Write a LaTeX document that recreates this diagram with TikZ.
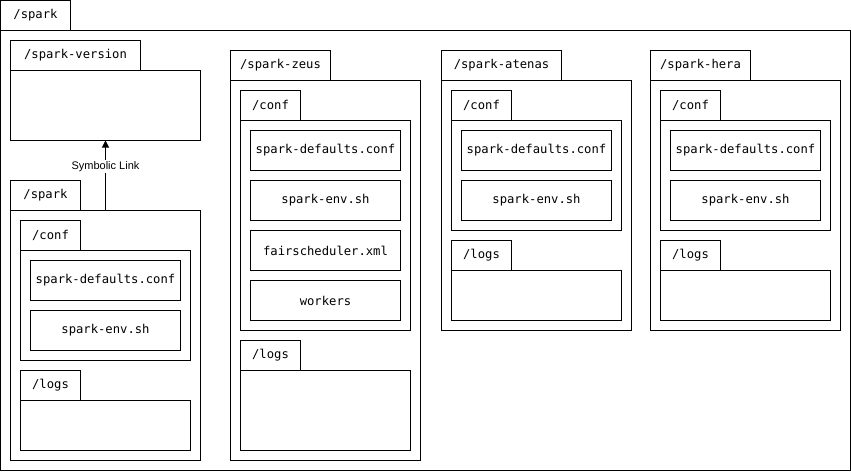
\documentclass[tikz,border=0pt]{standalone}
\usepackage{fontspec}
\setmainfont{Liberation Sans}
\newfontfamily\monofont{DejaVu Sans Mono}
\usetikzlibrary{arrows.meta}
\tikzset{
  box/.style={draw=black, line width=1pt, fill=white, inner sep=0pt, outer sep=0pt,
    anchor=north west, font=\monofont\fontsize{12.2}{13}\selectfont},
  tab/.style={box, minimum height=30pt},
  body/.style={box},
  file/.style={box, minimum width=150pt, minimum height=40pt},
  link/.style={line width=1pt, -{Triangle[length=7pt,width=7pt]}},
  linklabel/.style={fill=white, inner sep=1pt, font=\fontsize{11}{12}\selectfont}
}
\begin{document}
\begin{tikzpicture}[x=1pt,y=-1pt]
\useasboundingbox (-0.5,-0.5) rectangle (850.5,471.5);

% root folder
\node[tab, minimum width=70pt] (roottab) at (0,0) {/spark};
\node[body, minimum width=850pt, minimum height=440pt] (rootbody) at (0,30) {};

% spark-version folder
\node[tab, minimum width=130pt] (vertab) at (10,40) {/spark-version};
\node[body, minimum width=190pt, minimum height=70pt] (verbody) at (10,70) {};

% spark folder (symbolic link)
\node[tab, minimum width=70pt] (sptab) at (10,180) {/spark};
\node[body, minimum width=190pt, minimum height=250pt] (spbody) at (10,210) {};
\node[tab, minimum width=60pt] (spconftab) at (20,220) {/conf};
\node[body, minimum width=170pt, minimum height=110pt] (spconf) at (20,250) {};
\node[file] (spdef) at (30,260) {spark-defaults.conf};
\node[file] (spenv) at (30,310) {spark-env.sh};
\node[tab, minimum width=60pt] (splogstab) at (20,370) {/logs};
\node[body, minimum width=170pt, minimum height=50pt] (splogs) at (20,400) {};

\draw[link] (spbody.north) -- (verbody.south)
  node[linklabel, pos=0.63] (linktext) {Symbolic Link};

% spark-zeus folder
\node[tab, minimum width=100pt] (zeustab) at (230,50) {/spark-zeus};
\node[body, minimum width=190pt, minimum height=380pt] (zeusbody) at (230,80) {};
\node[tab, minimum width=60pt] (zeusconftab) at (240,90) {/conf};
\node[body, minimum width=170pt, minimum height=210pt] (zeusconf) at (240,120) {};
\node[file] (zeusdef) at (250,130) {spark-defaults.conf};
\node[file] (zeusenv) at (250,180) {spark-env.sh};
\node[file] (zeusfair) at (250,230) {fairscheduler.xml};
\node[file] (zeusworkers) at (250,280) {workers};
\node[tab, minimum width=60pt] (zeuslogstab) at (240,340) {/logs};
\node[body, minimum width=170pt, minimum height=80pt] (zeuslogs) at (240,370) {};

% spark-atenas folder
\node[tab, minimum width=120pt] (atenastab) at (441,50) {/spark-atenas};
\node[body, minimum width=190pt, minimum height=250pt] (atenasbody) at (441,80) {};
\node[tab, minimum width=60pt] (atenasconftab) at (451,90) {/conf};
\node[body, minimum width=170pt, minimum height=110pt] (atenasconf) at (451,120) {};
\node[file] (atenasdef) at (461,130) {spark-defaults.conf};
\node[file] (atenasenv) at (461,180) {spark-env.sh};
\node[tab, minimum width=60pt] (atenaslogstab) at (451,240) {/logs};
\node[body, minimum width=170pt, minimum height=50pt] (atenaslogs) at (451,270) {};

% spark-hera folder
\node[tab, minimum width=100pt] (heratab) at (650,50) {/spark-hera};
\node[body, minimum width=190pt, minimum height=250pt] (herabody) at (650,80) {};
\node[tab, minimum width=60pt] (heraconftab) at (660,90) {/conf};
\node[body, minimum width=170pt, minimum height=110pt] (heraconf) at (660,120) {};
\node[file] (heradef) at (670,130) {spark-defaults.conf};
\node[file] (heraenv) at (670,180) {spark-env.sh};
\node[tab, minimum width=60pt] (heralogstab) at (660,240) {/logs};
\node[body, minimum width=170pt, minimum height=50pt] (heralogs) at (660,270) {};
\end{tikzpicture}
\end{document}
